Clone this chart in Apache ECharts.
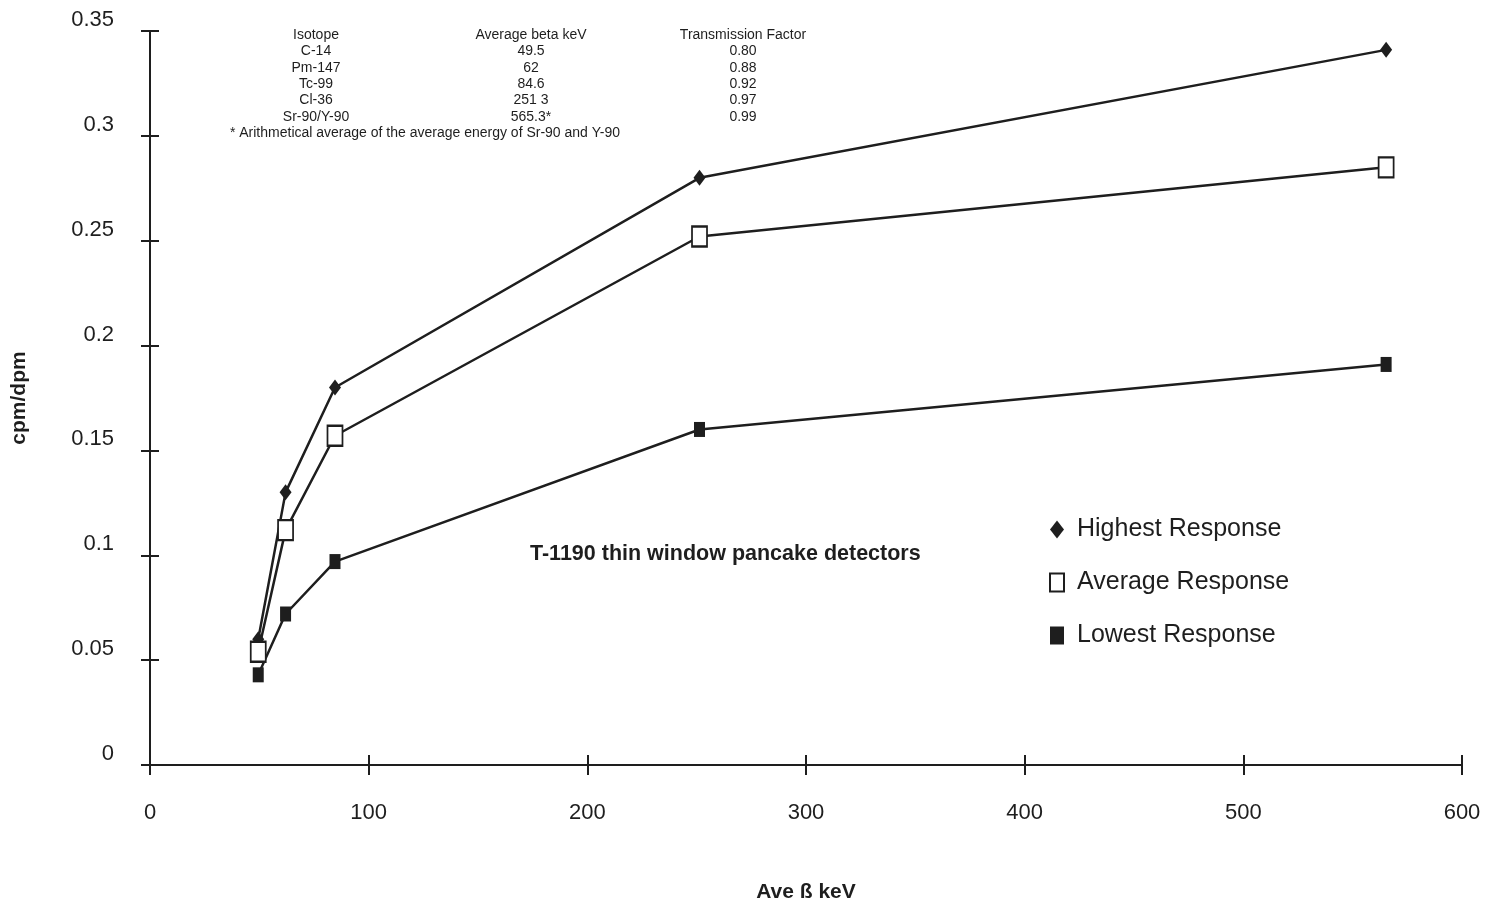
<!DOCTYPE html>
<html>
<head>
<meta charset="utf-8">
<script src="https://cdn.jsdelivr.net/npm/echarts@6/dist/echarts.min.js"></script>
<style>
  html, body { margin: 0; padding: 0; background: #fff; }
  #chart { width: 1494px; height: 909px; }
</style>
</head>
<body>
<div id="chart"></div>
<script>
// isotope table (printed at the top of the chart)
const isotopes = ['C-14', 'Pm-147', 'Tc-99', 'Cl-36', 'Sr-90/Y-90']
const energyLabels = ['49.5', '62', '84.6', '251 3', '565.3*']
const transmission = ['0.80', '0.88', '0.92', '0.97', '0.99']

// x positions (average beta keV)
const energies = [49.5, 62, 84.6, 251.3, 565.3]

// cpm/dpm responses
const highest = [0.060, 0.130, 0.180, 0.280, 0.341]
const average = [0.054, 0.112, 0.157, 0.252, 0.285]
const lowest = [0.043, 0.072, 0.097, 0.160, 0.191]

const ink = '#1e1e1e'
const font = '"Liberation Sans", Arial, sans-serif'

const chart = echarts.init(document.getElementById('chart'))

const pair = arr => energies.map((x, i) => [x, arr[i]])

const tableRows = []
const colX = [316, 531, 743]
const rowY0 = 35
const rowH = 16.4
const addText = (x, y, text) => tableRows.push({
  type: 'text', x, y,
  style: { text, fill: ink, font: `14px ${font}`, textAlign: 'center', textVerticalAlign: 'middle' }
})
addText(colX[0], rowY0, 'Isotope')
addText(colX[1], rowY0, 'Average beta keV')
addText(colX[2], rowY0, 'Transmission Factor')
isotopes.forEach((iso, i) => {
  const y = rowY0 + rowH * (i + 1)
  addText(colX[0], y, iso)
  addText(colX[1], y, energyLabels[i])
  addText(colX[2], y, transmission[i])
})
addText(425, rowY0 + rowH * 6, '* Arithmetical average of the average energy of Sr-90 and Y-90')

const baseX = {
  type: 'value', min: 0, max: 600, interval: 100,
  axisLine: { show: true, lineStyle: { color: ink, width: 2 } },
  splitLine: { show: false }
}
const baseY = {
  type: 'value', min: 0, max: 0.35, interval: 0.05,
  axisLine: { show: true, lineStyle: { color: ink, width: 2 } },
  splitLine: { show: false }
}

const lineSeries = (name, data, symbol, size, fill) => ({
  name, type: 'line', data: pair(data),
  symbol, symbolSize: size,
  showSymbol: true,
  lineStyle: { color: ink, width: 2.5 },
  itemStyle: { color: fill, borderColor: ink, borderWidth: fill === '#fff' ? 2 : 0 },
  z: 3
})

chart.setOption({
  animation: false,
  backgroundColor: '#fff',
  textStyle: { fontFamily: font },
  grid: { left: 150, right: 32, top: 31, bottom: 144 },
  xAxis: [
    {
      ...baseX,
      axisTick: { show: true, inside: false, length: 10, lineStyle: { color: ink, width: 2 } },
      axisLabel: { color: ink, fontSize: 22, margin: 37, fontFamily: font },
      name: 'Ave ß keV', nameLocation: 'middle', nameGap: 117,
      nameTextStyle: { color: ink, fontSize: 21, fontWeight: 'bold', fontFamily: font }
    },
    {
      ...baseX, position: 'bottom',
      axisTick: { show: true, inside: true, length: 10, lineStyle: { color: ink, width: 2 } },
      axisLabel: { show: false }
    }
  ],
  yAxis: [
    {
      ...baseY,
      axisTick: { show: true, inside: false, length: 9, lineStyle: { color: ink, width: 2 } },
      axisLabel: { color: ink, fontSize: 22, margin: 36, verticalAlign: 'bottom', fontFamily: font },
      name: 'cpm/dpm', nameLocation: 'middle', nameGap: 120,
      nameTextStyle: { color: ink, fontSize: 21, fontWeight: 'bold', fontFamily: font }
    },
    {
      ...baseY, position: 'left',
      axisTick: { show: true, inside: true, length: 9, lineStyle: { color: ink, width: 2 } },
      axisLabel: { show: false }
    }
  ],
  legend: {
    orient: 'vertical',
    left: 1044, top: 512,
    itemGap: 28,
    itemWidth: 14, itemHeight: 18,
    textStyle: { color: ink, fontSize: 25, fontFamily: font, padding: [0, 0, 0, 8] },
    data: [
      { name: 'Highest Response', icon: 'diamond', itemStyle: { color: ink, borderWidth: 0 } },
      { name: 'Average Response', icon: 'rect', itemStyle: { color: '#fff', borderColor: ink, borderWidth: 2 } },
      { name: 'Lowest Response', icon: 'rect', itemStyle: { color: ink, borderWidth: 0 } }
    ]
  },
  graphic: [
    {
      type: 'text', left: 530, top: 543,
      style: { text: 'T-1190 thin window pancake detectors', fill: ink, font: `bold 21.5px ${font}` }
    },
    ...tableRows
  ],
  series: [
    lineSeries('Highest Response', highest, 'diamond', [12, 16], ink),
    lineSeries('Average Response', average, 'rect', [15, 20], '#fff'),
    lineSeries('Lowest Response', lowest, 'rect', [11, 15], ink)
  ]
})
</script>
</body>
</html>
